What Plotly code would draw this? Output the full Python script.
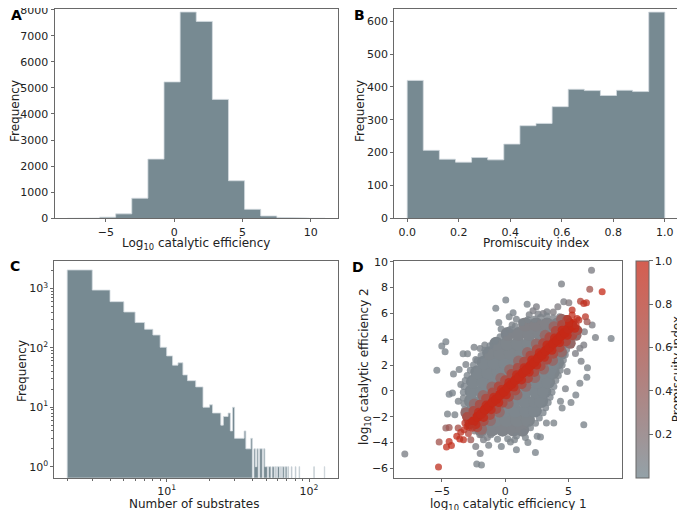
import plotly.graph_objects as go

# ---------------- Panel A: log10 catalytic efficiency histogram ----------------
a_edges = [-7.82, -6.64, -5.46, -4.28, -3.10, -1.92, -0.74, 0.44, 1.62, 2.80,
           3.98, 5.16, 6.34, 7.52, 8.70, 9.88, 11.06]
a_counts = [3, 12, 45, 170, 770, 2270, 5230, 7910, 7550, 4560, 1440, 345, 90, 35, 10, 3]

# ---------------- Panel B: promiscuity index histogram ----------------
b_edges = [0.0, 0.0625, 0.125, 0.1875, 0.25, 0.3125, 0.375, 0.4375, 0.5, 0.5625,
           0.625, 0.6875, 0.75, 0.8125, 0.875, 0.9375, 1.0]
b_counts = [420, 207, 180, 171, 185, 178, 226, 282, 289, 340, 393, 389, 374, 390, 386, 628]

# ---------------- Panel C: number of substrates (integer bins 2..129) ----------------
c_edges = list(range(2, 130))
c_counts = [2040, 935, 597, 400, 266, 205, 164, 102, 73, 51,          # 2-11
            56, 35, 28, 28, 22, 22, 10, 10, 11, 8,                   # 12-21
            8, 8, 5, 7, 7, 8, 4, 10, 3, 3,                           # 22-31
            3, 3, 3, 4, 2, 2, 2, 3, 0, 2,                            # 32-41
            1, 2, 0, 2, 2, 0, 2, 1, 1, 0,                            # 42-51
            1, 1, 0, 1, 1, 0, 1, 0, 1, 1,                            # 52-61
            0, 1, 0, 1, 1, 0, 1, 1, 0, 1,                            # 62-71
            0, 0, 0, 1, 0, 0, 0, 0, 1, 0,                            # 72-81
            0, 0, 0, 1, 0, 0, 0, 0, 0, 0,                            # 82-91
            0, 0, 0, 0, 0, 0, 0, 0, 0, 0,                            # 92-101
            0, 0, 0, 0, 0, 0, 1, 0, 0, 0,                            # 102-111
            0, 0, 0, 0, 0, 0, 0, 0, 0, 0,                            # 112-121
            0, 0, 0, 0, 0, 0, 1]                                     # 122-128

# ---------------- Panel D: pairs of catalytic efficiencies ----------------
# dense gray core (rows of y with x positions)
core_rows_y = [-3.0, -2.26, -1.52, -0.78, -0.04, 0.7, 1.44, 2.18, 2.92, 3.66, 4.4, 5.14]
core_rows_x = [
    [-1.9, -1.05, -0.2, 0.65, 1.35],
    [-2.45, -1.6, -0.75, 0.1, 0.95, 1.8],
    [-2.6, -1.75, -0.9, -0.05, 0.8, 1.65, 2.35],
    [-2.7, -1.85, -1.0, -0.15, 0.7, 1.55, 2.4, 2.85],
    [-2.65, -1.8, -0.95, -0.1, 0.75, 1.6, 2.45, 3.1],
    [-2.55, -1.7, -0.85, 0.0, 0.85, 1.7, 2.55, 3.4],
    [-2.2, -1.35, -0.5, 0.35, 1.2, 2.05, 2.9, 3.75],
    [-1.7, -0.85, 0.0, 0.85, 1.7, 2.55, 3.4, 4.1],
    [-1.25, -0.4, 0.45, 1.3, 2.15, 3.0, 3.85, 4.35],
    [-0.7, 0.15, 1.0, 1.85, 2.7, 3.55, 4.4],
    [0.2, 1.05, 1.9, 2.75, 3.6, 4.5],
    [1.6, 2.45, 3.3, 4.15, 4.8],
]
core_rows_c = [0.08, 0.06, 0.05, 0.05, 0.05, 0.05, 0.05, 0.05, 0.06, 0.06, 0.08, 0.1]

# ragged rim of the core
rim_x = [-1.4, -0.6, 0.2, 0.9, 1.5, 2.0, 2.4, 2.7, 3.0, 3.2, 3.4, 3.55, 3.7, 3.85, 4.0,
         4.2, 4.35, 4.5, 4.6, 4.75, 4.85, 5.0, 5.1, 5.2, 5.3, 5.35,
         4.8, 4.3, 3.8, 3.3, 2.8, 2.3, 1.8, 1.3, 0.8, 0.4, 0.0, -0.4, -0.8, -1.2,
         -1.6, -1.9, -2.2, -2.5, -2.75, -3.0, -3.15, -3.25, -3.3, -3.3, -3.25,
         -3.2, -3.15, -3.0, -2.8, -2.4, -2.0]
rim_y = [-3.6, -3.75, -3.7, -3.5, -3.2, -2.85, -2.5, -2.1, -1.7, -1.3, -0.9, -0.5, -0.1, 0.35, 0.8,
         1.2, 1.6, 2.0, 2.4, 2.8, 3.2, 3.6, 4.0, 4.4, 4.8, 5.2,
         5.6, 5.75, 5.65, 5.8, 5.7, 5.55, 5.5, 5.3, 5.0, 4.75, 4.5, 4.2, 3.85, 3.5,
         3.15, 2.75, 2.35, 2.0, 1.6, 1.2, 0.8, 0.35, -0.1, -0.55, -1.0,
         -1.45, -1.9, -2.3, -2.7, -3.1, -3.4]
rim_c = [0.08, 0.06, 0.06, 0.06, 0.07, 0.06, 0.06, 0.05, 0.05, 0.05, 0.05, 0.05, 0.05, 0.05, 0.06,
         0.06, 0.06, 0.07, 0.07, 0.08, 0.08, 0.09, 0.1, 0.12, 0.15, 0.2,
         0.15, 0.1, 0.08, 0.07, 0.07, 0.06, 0.06, 0.06, 0.06, 0.05, 0.05, 0.05, 0.05, 0.05,
         0.05, 0.05, 0.05, 0.05, 0.05, 0.05, 0.05, 0.05, 0.05, 0.06, 0.06,
         0.07, 0.08, 0.1, 0.12, 0.15, 0.12]

# sparse outlying points
halo_x = [6.82, 4.45, 0.05, 1.74, -0.74, 2.47, 3.30, 4.16, 4.63, 5.03, 0.63, 0.32, 1.34, 0.89,
          0.55, -0.32, 2.2, 3.0, 3.8, 6.87, 6.26, 7.13, 8.37, 6.21, 5.55, 5.9, 6.5, 6.45,
          5.58, 6.21, 4.76, 4.37, 4.5, 3.84, 3.26, 2.53, 2.79, 2.39, 0.89, 0.42, 0.74, 1.21,
          -1.13, -0.87, -1.87, -1.71, -2.32, -1.97, -2.24, -1.87, -7.92, -5.39, -4.08, -3.63,
          -4.42, -4.16, -4.55, -3.97, -5.00, -4.68, -4.74, -3.32, -2.97, -2.45, -1.97, -1.61,
          -2.32, -3.10, -3.5, -3.7, -0.5, 1.9, 2.6, 6.0, 5.9, 5.2, 4.9, 1.8, 1.6, -0.3, -1.3]
halo_y = [9.35, 8.27, 7.03, 6.70, 6.39, 6.52, 6.13, 6.52, 6.90, 6.83, 6.05, 5.74, 5.35, 5.55,
          5.10, 4.79, 6.2, 6.0, 6.1, 5.10, 4.58, 4.14, 4.06, 3.55, 2.90, 3.3, 1.8, 1.05,
          -0.32, -2.62, 0.17, -0.81, -1.33, -2.49, -2.49, -3.52, -3.57, -4.76, -4.55, -3.96, -3.78, -3.14,
          -3.39, -3.14, -3.39, -3.78, -4.30, -4.84, -5.66, -5.74, -4.89, 1.60, 1.30, 1.65,
          -0.25, -0.17, -1.79, -1.85, 3.47, 3.81, 3.03, 2.88, 2.88, 3.37, 3.29, 3.55,
          2.44, 2.05, 0.5, -0.8, 5.3, 5.9, 5.95, 2.3, 0.6, -0.9, 1.5, -4.0, -3.6, -4.3, -4.2]
halo_c = [0.10, 0.08, 0.05, 0.06, 0.05, 0.10, 0.08, 0.12, 0.10, 0.15, 0.05, 0.06, 0.08, 0.06,
          0.07, 0.05, 0.1, 0.1, 0.12, 0.10, 0.12, 0.08, 0.05, 0.10, 0.10, 0.1, 0.06, 0.05,
          0.05, 0.05, 0.08, 0.06, 0.06, 0.06, 0.06, 0.05, 0.05, 0.05, 0.05, 0.06, 0.06, 0.07,
          0.06, 0.06, 0.08, 0.08, 0.10, 0.08, 0.06, 0.06, 0.08, 0.05, 0.06, 0.06,
          0.05, 0.05, 0.06, 0.06, 0.05, 0.05, 0.05, 0.06, 0.06, 0.07, 0.07, 0.07,
          0.07, 0.07, 0.06, 0.06, 0.05, 0.08, 0.08, 0.08, 0.06, 0.06, 0.08, 0.06, 0.06, 0.05, 0.07]

# transition zone around the diagonal (lighter, then mid)
light_x = [-1.86, -1.16, -0.46, 0.24, 0.94, 1.64, 2.34, 3.04, 3.74, 4.44, 5.14, 5.6,
           -3.1, -2.44, -1.74, -1.04, -0.34, 0.36, 1.06, 1.76, 2.46, 3.16, 3.86, 4.46]
light_y = [-2.97, -2.3, -1.64, -0.97, -0.3, 0.36, 1.03, 1.69, 2.36, 3.02, 3.69, 4.3,
           -1.69, -1.02, -0.36, 0.31, 0.98, 1.64, 2.31, 2.97, 3.64, 4.3, 4.97, 5.54]
light_c = [0.3, 0.28, 0.3, 0.32, 0.3, 0.28, 0.3, 0.3, 0.32, 0.33, 0.35, 0.3,
           0.3, 0.28, 0.3, 0.3, 0.28, 0.3, 0.3, 0.32, 0.3, 0.33, 0.35, 0.35]

mid_x = [-2.2, -1.7, -1.2, -0.7, -0.2, 0.3, 0.8, 1.3, 1.8, 2.3, 2.8, 3.3, 3.8, 4.3,
         4.8, 5.3, 5.7,
         -3.0, -2.5, -2.0, -1.5, -1.0, -0.5, 0.0, 0.5, 1.0, 1.5, 2.0, 2.5, 3.0,
         3.5, 4.0, 4.5, 4.9]
mid_y = [-2.82, -2.35, -1.87, -1.4, -0.92, -0.45, 0.03, 0.51, 0.98, 1.46, 1.93, 2.41, 2.88, 3.36,
         3.83, 4.31, 4.69,
         -2.02, -1.55, -1.07, -0.6, -0.12, 0.35, 0.83, 1.31, 1.78, 2.26, 2.73, 3.21, 3.68,
         4.16, 4.63, 5.11, 5.49]
mid_c = [0.6, 0.58, 0.6, 0.62, 0.6, 0.58, 0.6, 0.6, 0.62, 0.6, 0.6, 0.62, 0.6, 0.62,
         0.65, 0.65, 0.6,
         0.6, 0.6, 0.58, 0.6, 0.6, 0.62, 0.6, 0.6, 0.58, 0.6, 0.62, 0.6, 0.62,
         0.62, 0.65, 0.65, 0.62]

# high-promiscuity band along the diagonal
red2_x = [-2.3, -1.7, -1.1, -0.5, 0.1, 0.7, 1.3, 1.9, 2.5, 3.1, 3.7, 4.3, 4.9, 5.5,
          -2.1, -1.5, -0.9, -0.3, 0.3, 0.9, 1.5, 2.1, 2.7, 3.3, 3.9, 4.5, 5.1]
red2_y = [-2.6, -2.05, -1.45, -0.9, -0.3, 0.3, 0.85, 1.45, 2.0, 2.6, 3.15, 3.75, 4.3, 4.85,
          -1.65, -1.1, -0.5, 0.1, 0.65, 1.25, 1.8, 2.4, 2.95, 3.55, 4.1, 4.7, 5.3]
red2_c = [0.88, 0.9, 0.88, 0.9, 0.9, 0.88, 0.9, 0.9, 0.9, 0.9, 0.92, 0.92, 0.93, 0.92,
          0.88, 0.9, 0.9, 0.88, 0.9, 0.9, 0.9, 0.92, 0.9, 0.92, 0.92, 0.93, 0.95]

red_x = [-2.8, -2.5, -2.2, -1.9, -1.6, -1.3, -1.0, -0.7, -0.4, -0.1, 0.2, 0.5, 0.8, 1.1,
         1.4, 1.7, 2.0, 2.3, 2.6, 2.9, 3.2, 3.5, 3.8, 4.1, 4.4, 4.7, 5.0, 5.3]
red_y = [-2.58, -2.36, -2.02, -1.79, -1.45, -1.21, -0.88, -0.64, -0.31, -0.07, 0.26, 0.51, 0.83, 1.08,
         1.40, 1.65, 1.97, 2.22, 2.54, 2.79, 3.11, 3.36, 3.68, 3.93, 4.25, 4.50, 4.82, 5.07]
red_c = [0.97, 0.98, 0.99, 0.98, 0.99, 1.0, 0.99, 1.0, 0.99, 1.0, 0.99, 1.0, 1.0, 0.99,
         1.0, 0.99, 1.0, 1.0, 0.99, 1.0, 1.0, 0.99, 1.0, 1.0, 0.99, 1.0, 0.98, 0.99]

# red / reddish outlying points at both ends of the diagonal
tail_x = [-3.24, -2.84, -3.18, -3.82, -3.58, -3.29, -4.42, -4.63, -4.24, -5.26, -4.68, -4.42,
          -3.71, -5.21, -2.71, -3.0, -2.6, -3.5, -2.9,
          7.66, 6.68, 5.95, 6.21, 6.42, 5.29, 6.34, 6.47, 5.29, 5.68, 5.42, 5.82, 5.03, 5.6, 4.9]
tail_y = [-3.00, -2.83, -2.49, -3.52, -3.73, -3.78, -3.91, -4.35, -4.22, -5.90, -2.88, -2.83,
          -2.88, -3.96, -3.78, -2.75, -2.9, -3.2, -3.3,
          7.68, 7.86, 6.95, 6.77, 6.83, 6.26, 5.74, 5.35, 5.87, 5.61, 5.35, 5.48, 5.23, 5.1, 5.6]
tail_c = [0.92, 0.9, 0.9, 0.95, 0.95, 0.9, 0.92, 0.95, 0.95, 0.9, 0.4, 0.5,
          0.6, 0.55, 0.5, 0.95, 0.85, 0.9, 0.7,
          1.0, 0.55, 0.75, 0.9, 0.92, 0.9, 0.85, 0.5, 0.95, 0.95, 1.0, 0.9, 0.95, 0.9, 0.8]

# ---------------- styling ----------------
BAR = "#778a92"
EDGE = "#d3dbdf"
FRAME = "rgb(105,105,105)"
TXT = "#222222"
FONT = "DejaVu Sans"
W, H = 685, 510
OFF = 8  # the page places the figure 8 px right and down


def step_polygon(edges, counts, floor):
    xs, ys = [edges[0]], [floor]
    for i, h in enumerate(counts):
        hh = h if h > 0 else floor
        xs += [edges[i], edges[i + 1]]
        ys += [hh, hh]
    xs.append(edges[-1])
    ys.append(floor)
    return xs, ys


fig = go.Figure()

for (edges, counts, floor, xa, ya) in [
    (a_edges, a_counts, 0, "x", "y"),
    (b_edges, b_counts, 0, "x2", "y2"),
    (c_edges, c_counts, 0.1, "x3", "y3"),
]:
    xs, ys = step_polygon(edges, counts, floor)
    fig.add_trace(go.Scatter(x=xs, y=ys, mode="lines", fill="toself", fillcolor=BAR,
                             line=dict(color=EDGE, width=0.8), xaxis=xa, yaxis=ya,
                             hoverinfo="skip", showlegend=False))

core_x, core_y, core_c = [], [], []
for yy, xs, cc in zip(core_rows_y, core_rows_x, core_rows_c):
    for xx in xs:
        core_x.append(xx)
        core_y.append(yy)
        core_c.append(cc)


def sc(x, y, c, size, axis):
    return go.Scatter(x=x, y=y, mode="markers", xaxis="x4", yaxis="y4", showlegend=False,
                      hoverinfo="skip",
                      marker=dict(size=size, color=c, coloraxis=axis, line=dict(width=0)))


fig.add_trace(sc(halo_x, halo_y, halo_c, 7, "coloraxis"))
fig.add_trace(sc(core_x, core_y, core_c, 14, "coloraxis2"))
fig.add_trace(sc(rim_x, rim_y, rim_c, 7, "coloraxis"))
fig.add_trace(sc(light_x, light_y, light_c, 11, "coloraxis2"))
fig.add_trace(sc(mid_x, mid_y, mid_c, 10, "coloraxis2"))
fig.add_trace(sc(red2_x, red2_y, red2_c, 9, "coloraxis2"))
fig.add_trace(sc(red_x, red_y, red_c, 10, "coloraxis2"))
fig.add_trace(sc(tail_x, tail_y, tail_c, 7, "coloraxis"))


def dom_x(a, b):
    return [(a - OFF) / W, (b - OFF) / W]


def dom_y(top, bottom):
    return [1 - (bottom - OFF) / H, 1 - (top - OFF) / H]


base = dict(showline=True, mirror=True, linecolor=FRAME, linewidth=1, ticks="outside",
            ticklen=3, tickwidth=1, tickcolor=FRAME, showgrid=False, zeroline=False,
            automargin=False, ticklabeloverflow="allow",
            tickfont=dict(family=FONT, size=11, color=TXT))
tfont = dict(family=FONT, size=12, color=TXT)

fig.update_layout(
    width=W, height=H, margin=dict(l=0, r=0, t=0, b=0, autoexpand=False),
    paper_bgcolor="white", plot_bgcolor="white", showlegend=False,
    font=dict(family=FONT, size=11, color=TXT),
    xaxis=dict(base, domain=dom_x(54.5, 338), anchor="y", range=[-8.76, 12.0],
               tickvals=[-5, 0, 5, 10]),
    yaxis=dict(base, domain=dom_y(8.5, 218.3), anchor="x", range=[0, 8045],
               tickvals=[0, 1000, 2000, 3000, 4000, 5000, 6000, 7000, 8000]),
    xaxis2=dict(base, domain=dom_x(394.3, 677.7), anchor="y2", range=[-0.05, 1.05],
                tickvals=[0, 0.2, 0.4, 0.6, 0.8, 1.0], ticktext=["0.0", "0.2", "0.4", "0.6", "0.8", "1.0"]),
    yaxis2=dict(base, domain=dom_y(8.5, 218.3), anchor="x2", range=[0, 639],
                tickvals=[0, 100, 200, 300, 400, 500, 600]),
    xaxis3=dict(base, domain=dom_x(54.3, 337.7), anchor="y3", type="log",
                range=[0.2105, 2.2015], tickvals=[10, 100],
                ticktext=["10<sup>1</sup>", "10<sup>2</sup>"],
                minor=dict(ticks="outside", ticklen=2, tickcolor=FRAME,
                           tickvals=[2, 3, 4, 5, 6, 7, 8, 9, 20, 30, 40, 50, 60, 70, 80, 90])),
    yaxis3=dict(base, domain=dom_y(261, 477.7), anchor="x3", type="log",
                range=[-0.185, 3.46], tickvals=[1, 10, 100, 1000],
                ticktext=["10<sup>0</sup>", "10<sup>1</sup>", "10<sup>2</sup>", "10<sup>3</sup>"],
                minor=dict(ticks="outside", ticklen=2, tickcolor=FRAME,
                           tickvals=[2, 3, 4, 5, 6, 7, 8, 9, 20, 30, 40, 50, 60, 70, 80, 90,
                                     200, 300, 400, 500, 600, 700, 800, 900, 2000])),
    xaxis4=dict(base, domain=dom_x(394.3, 622.3), anchor="y4", range=[-8.75, 9.25],
                tickvals=[-5, 0, 5]),
    yaxis4=dict(base, domain=dom_y(260.7, 477.7), anchor="x4", range=[-6.72, 10.08],
                tickvals=[-6, -4, -2, 0, 2, 4, 6, 8, 10]),
    coloraxis=dict(
        cmin=0.0, cmax=1.0,
        colorscale=[[0, "rgba(120,138,146,0.8)"], [1, "rgba(198,40,22,0.75)"]],
        colorbar=dict(
            x=(635.7 - OFF) / W, xanchor="left", y=1 - (369.2 - OFF) / H, yanchor="middle",
            xpad=0, ypad=0,
            thickness=13.3, thicknessmode="pixels", len=217, lenmode="pixels",
            outlinewidth=1, outlinecolor=FRAME, ticks="outside", ticklen=3.5,
            tickcolor=FRAME, tickvals=[0.2, 0.4, 0.6, 0.8, 1.0],
            ticktext=["0.2", "0.4", "0.6", "0.8", "1.0"],
            tickfont=dict(family=FONT, size=11, color=TXT),
        ),
    ),
    coloraxis2=dict(
        cmin=0.0, cmax=1.0, showscale=False,
        colorscale=[[0, "rgb(122,140,148)"], [1, "rgb(198,40,22)"]],
    ),
)

# axis and colour-bar titles, placed where the reference shows them (page pixel centres)
titles = [
    ("Frequency", 15, 111, -90),
    ("Log<sub>10</sub> catalytic efficiency", 196, 243.5, 0),
    ("Frequency", 360, 111, -90),
    ("Promiscuity index", 536, 243, 0),
    ("Frequency", 22, 371, -90),
    ("Number of substrates", 193.5, 503.5, 0),
    ("log<sub>10</sub> catalytic efficiency 2", 365, 367, -90),
    ("log<sub>10</sub> catalytic efficiency 1", 508, 504.5, 0),
    ("Promiscuity index", 677, 369.2, -90),
]
for text, tx, ty, ang in titles:
    fig.add_annotation(text=text, xref="paper", yref="paper",
                       x=(tx - OFF) / W, y=1 - (ty - OFF) / H, textangle=ang,
                       xanchor="center", yanchor="middle", showarrow=False, font=tfont)

letters = [("A", 8.5, 14), ("B", 352, 13), ("C", 7, 266), ("D", 350, 267)]
for t, lx, ly in letters:
    fig.add_annotation(text="<b>%s</b>" % t, xref="paper", yref="paper",
                       x=max(lx - OFF, 0) / W, y=1 - max(ly - OFF, 7) / H,
                       xanchor="left", yanchor="middle", showarrow=False,
                       font=dict(family=FONT, size=14, color="black"))

fig.write_html("out.html")
